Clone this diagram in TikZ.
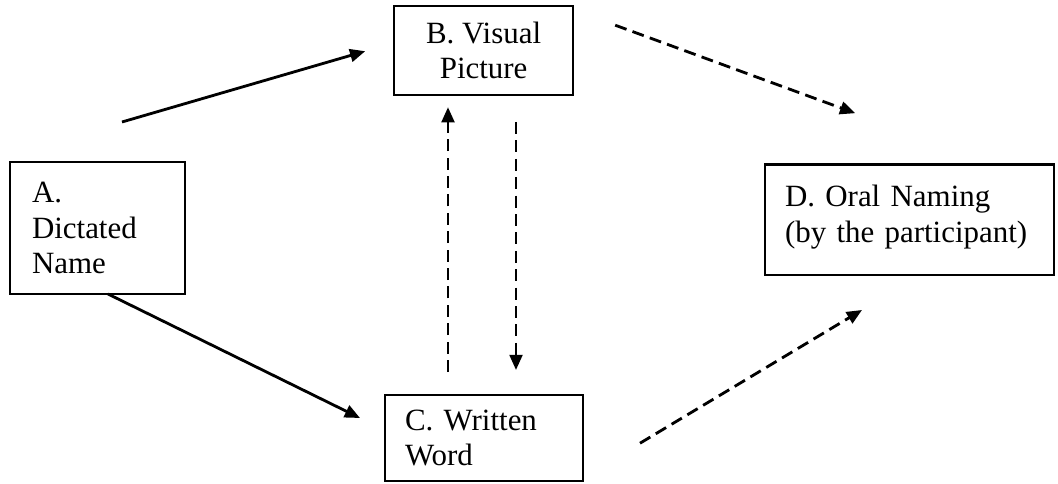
\documentclass[tikz,border=0pt]{standalone}
\usepackage{fontspec}
\setmainfont{Liberation Serif}
\usetikzlibrary{arrows.meta,positioning}

\begin{document}
\begin{tikzpicture}[
    font=\fontsize{22}{25}\selectfont,
    stage/.style={draw, line width=1.6pt, inner xsep=0.5cm, inner ysep=0pt},
    link/.style={-{Triangle[length=3.8mm,width=3.2mm]}, line width=2pt},
    hint/.style={link, dash pattern=on 3mm off 1.6mm}
]
\useasboundingbox (0,0) rectangle (26.45,-12.1);

% the four stages
\node[stage, align=left, text width=3.28cm, inner xsep=0.55cm, minimum height=3.3cm] (dict) at (2.44,-5.70) {A.\\Dictated\\Name};
\node[stage, align=center, minimum width=4.48cm, minimum height=2.23cm] (visual) at (12.09,-1.26) {B. Visual\\Picture};
\node[stage, align=left, text width=3.95cm, minimum height=2.15cm] (written) at (12.10,-10.95) {C. Written\\Word};
\node[stage, align=left, text width=6.23cm, inner ysep=0.52cm, text depth=1.18cm, anchor=south] (oral) at (22.74,-6.90) {D. Oral Naming\\(by the participant)};

% free ends of the arrows
\coordinate (ab-from) at (3.05,-3.05);
\coordinate (ab-to) at (9.13,-1.28);
\coordinate (ac-from) at (2.70,-7.35);
\coordinate (ac-to) at (9.00,-10.45);
\coordinate (bd-from) at (15.38,-0.63);
\coordinate (bd-to) at (21.38,-2.83);
\coordinate (cd-from) at (16.00,-11.08);
\coordinate (cd-to) at (21.55,-7.75);
\coordinate (cb-from) at (11.20,-9.30);
\coordinate (cb-to) at (11.20,-2.68);
\coordinate (bc-from) at (12.90,-3.05);
\coordinate (bc-to) at (12.90,-9.25);

\draw[link] (ab-from) -- (ab-to);
\draw[link] (ac-from) -- (ac-to);
\draw[hint] (bd-from) -- (bd-to);
\draw[hint] (cd-from) -- (cd-to);
\draw[hint] (cb-from) -- (cb-to);
\draw[hint] (bc-from) -- (bc-to);
\end{tikzpicture}
\end{document}
